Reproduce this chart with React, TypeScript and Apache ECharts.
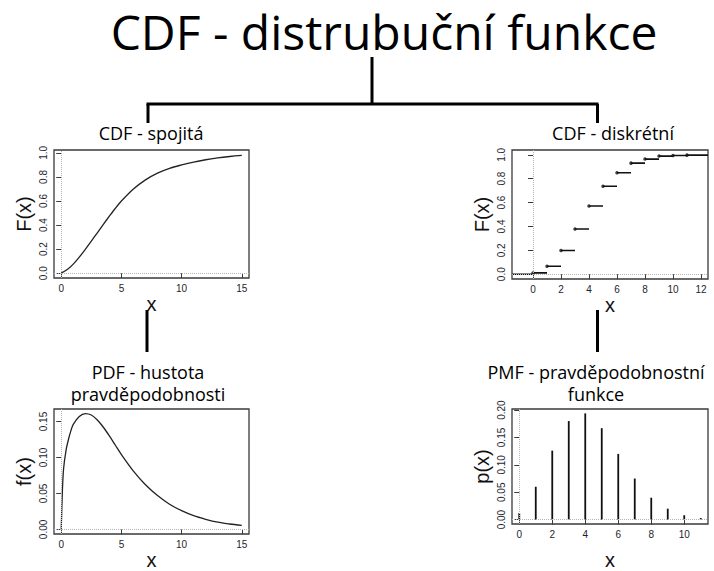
import React, { useEffect, useRef } from 'react';
import * as echarts from 'echarts';

// ---------- data ----------
const cdfX = [0, 0.5, 1, 1.5, 2, 2.5, 3, 3.5, 4, 4.5, 5, 6, 7, 8, 9, 10, 11, 12, 13, 14, 15];
const cdfF = [0, 0.03, 0.075, 0.133, 0.198, 0.266, 0.336, 0.406, 0.474, 0.54, 0.6, 0.7, 0.776, 0.832, 0.872, 0.9, 0.924, 0.943, 0.958, 0.97, 0.98];

const pdfX = [0, 0.1, 0.2, 0.4, 0.6, 0.8, 1, 1.5, 2, 2.5, 3, 3.5, 4, 4.5, 5, 6, 7, 8, 9, 10, 11, 12, 13, 14, 15];
const pdfF = [0, 0.055, 0.085, 0.11, 0.125, 0.137, 0.146, 0.157, 0.161, 0.159, 0.152, 0.142, 0.13, 0.117, 0.104, 0.081, 0.062, 0.047, 0.035, 0.026, 0.019, 0.014, 0.01, 0.0075, 0.0055];

const stepK = [0, 1, 2, 3, 4, 5, 6, 7, 8, 9, 10, 11];
const stepF = [0.011, 0.067, 0.199, 0.378, 0.571, 0.737, 0.849, 0.93, 0.964, 0.989, 0.994, 0.997];

const pmfK = [0, 1, 2, 3, 4, 5, 6, 7, 8, 9, 10, 11];
const pmfP = [0.012, 0.06, 0.126, 0.18, 0.194, 0.167, 0.12, 0.075, 0.04, 0.02, 0.008, 0.003];

const tlXTicks = [0, 5, 10, 15];
const tlYTicks = [0, 0.2, 0.4, 0.6, 0.8, 1.0];
const trXTicks = [0, 2, 4, 6, 8, 10, 12];
const trYTicks = [0, 0.2, 0.4, 0.6, 0.8, 1.0];
const blXTicks = [0, 5, 10, 15];
const blYTicks = [0, 0.05, 0.1, 0.15];
const brXTicks = [0, 2, 4, 6, 8, 10];
const brYTicks = [0, 0.05, 0.1, 0.15, 0.2];

const mainTitle = 'CDF - distrubuční funkce';
const subTitles = ['CDF - spojitá', 'CDF - diskrétní', 'PDF - hustota\npravděpodobnosti', 'PMF - pravděpodobnostní\nfunkce'];
const yNames = ['F(x)', 'F(x)', 'f(x)', 'p(x)'];

// axis extents (R style 4% padding)
const trXMin = -1.5;
const trXMax = 12.5;

const TITLE_FONT = '"Open Sans", "Noto Sans", sans-serif';
const AXIS_FONT = '"Liberation Sans", Arial, sans-serif';

export default function App() {
  const ref = useRef<HTMLDivElement>(null);

  useEffect(() => {
    if (!ref.current) return;
    const chart = echarts.init(ref.current, undefined, { renderer: 'svg' });

    const grids = [
      { left: 54, top: 150, width: 195, height: 128 },
      { left: 512, top: 150, width: 196, height: 129 },
      { left: 54, top: 409, width: 195, height: 128 },
      { left: 512, top: 409, width: 196, height: 128 },
    ].map((g) => ({ ...g, show: true, borderColor: '#3a3a3a', borderWidth: 1.3, backgroundColor: '#fff', containLabel: false }));

    const xAx = (i: number, min: number, max: number, ticks: number[], nameGap: number) => ({
      type: 'value',
      gridIndex: i,
      min,
      max,
      axisLine: { show: false },
      splitLine: { show: false },
      axisTick: { show: true, length: 5, customValues: ticks, lineStyle: { color: '#3a3a3a', width: 1 } },
      axisLabel: { customValues: ticks, fontSize: 10, color: '#1e1e2e', margin: 5, fontFamily: AXIS_FONT },
      name: 'x',
      nameLocation: 'middle',
      nameGap,
      nameTextStyle: { fontSize: 20, color: '#111', fontFamily: AXIS_FONT },
    });
    const yAx = (i: number, min: number, max: number, ticks: number[], digits: number) => ({
      type: 'value',
      gridIndex: i,
      min,
      max,
      axisLine: { show: false },
      splitLine: { show: false },
      axisTick: { show: true, length: 5, customValues: ticks, lineStyle: { color: '#3a3a3a', width: 1 } },
      axisLabel: {
        customValues: ticks,
        rotate: 90,
        fontSize: 10,
        color: '#1e1e2e',
        margin: 6,
        fontFamily: AXIS_FONT,
        formatter: (v: number) => v.toFixed(digits),
      },
      name: yNames[i],
      nameLocation: 'middle',
      nameRotate: 90,
      nameGap: 20,
      nameTextStyle: { fontSize: 20, color: '#111', fontFamily: AXIS_FONT },
    });

    const refLines = (color = '#b5b5b5') => ({
      silent: true,
      symbol: 'none',
      label: { show: false },
      lineStyle: { type: 'dotted', color, width: 1 },
      data: [{ xAxis: 0 }, { yAxis: 0 }],
    });

    const stepData: any[] = [[trXMin, 0], [0, 0], [0, '-']];
    stepK.forEach((k, i) => {
      const end = i === stepK.length - 1 ? trXMax : stepK[i + 1];
      stepData.push([k, stepF[i]], [end, stepF[i]], [end, '-']);
    });

    const labelStyle = { font: `18px ${TITLE_FONT}`, fill: '#000', align: 'center', verticalAlign: 'middle', lineHeight: 22 };
    const ln = (x1: number, y1: number, x2: number, y2: number) => ({
      type: 'line',
      shape: { x1, y1, x2, y2 },
      style: { stroke: '#000', lineWidth: 3 },
    });

    chart.setOption({
      animation: false,
      backgroundColor: '#fff',
      grid: grids,
      xAxis: [
        xAx(0, -0.6, 15.6, tlXTicks, 14),
        xAx(1, trXMin, trXMax, trXTicks, 14),
        xAx(2, -0.6, 15.6, blXTicks, 16),
        xAx(3, -0.44, 11.44, brXTicks, 26),
      ],
      yAxis: [
        yAx(0, -0.04, 1.024, tlYTicks, 1),
        yAx(1, -0.04, 1.04, trYTicks, 1),
        yAx(2, -0.0064, 0.1674, blYTicks, 2),
        yAx(3, -0.008, 0.202, brYTicks, 2),
      ],
      series: [
        {
          type: 'line',
          xAxisIndex: 0,
          yAxisIndex: 0,
          data: cdfX.map((x, i) => [x, cdfF[i]]),
          showSymbol: false,
          smooth: 0.3,
          lineStyle: { color: '#222', width: 1.3 },
          markLine: refLines(),
        },
        {
          type: 'line',
          xAxisIndex: 1,
          yAxisIndex: 1,
          data: stepData,
          showSymbol: false,
          connectNulls: false,
          lineStyle: { color: '#111', width: 1.6 },
          markLine: refLines(),
        },
        {
          type: 'scatter',
          xAxisIndex: 1,
          yAxisIndex: 1,
          data: stepK.map((k, i) => [k, stepF[i]]),
          symbolSize: 3.5,
          itemStyle: { color: '#111' },
        },
        {
          type: 'line',
          xAxisIndex: 2,
          yAxisIndex: 2,
          data: pdfX.map((x, i) => [x, pdfF[i]]),
          showSymbol: false,
          smooth: 0.3,
          lineStyle: { color: '#222', width: 1.3 },
          markLine: refLines(),
        },
        {
          type: 'bar',
          xAxisIndex: 3,
          yAxisIndex: 3,
          data: pmfK.map((k, i) => [k, pmfP[i]]),
          barWidth: 1.8,
          itemStyle: { color: '#111' },
          markLine: refLines(),
        },
      ],
      graphic: [
        { type: 'text', x: 384, y: 31, style: { text: mainTitle, font: `48px ${TITLE_FONT}`, fill: '#000', align: 'center', verticalAlign: 'middle' } },
        ln(372, 57, 372, 104),
        ln(146.5, 104, 598.5, 104),
        ln(148, 104, 148, 123),
        ln(597.5, 104, 597.5, 123),
        ln(147, 310, 147, 352),
        ln(597.5, 310, 597.5, 352),
        { type: 'text', x: 151, y: 133, style: { ...labelStyle, text: subTitles[0] } },
        { type: 'text', x: 613, y: 133, style: { ...labelStyle, text: subTitles[1] } },
        { type: 'text', x: 148, y: 383, style: { ...labelStyle, text: subTitles[2] } },
        { type: 'text', x: 596, y: 383, style: { ...labelStyle, text: subTitles[3] } },
      ],
    });

    return () => chart.dispose();
  }, []);

  return <div ref={ref} style={{ position: 'absolute', left: 0, top: 0, width: 714, height: 571 }} />;
}
